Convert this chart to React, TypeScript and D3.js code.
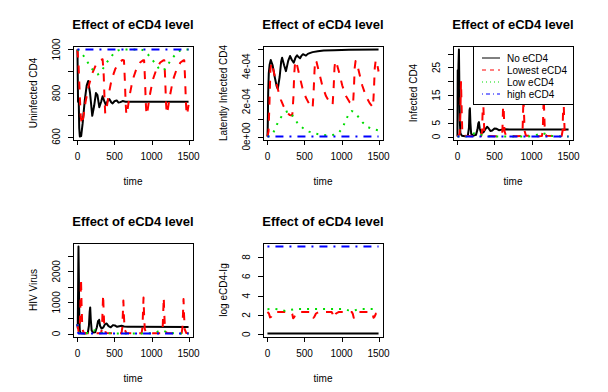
import React from "react";
import * as d3 from "d3";

type Pt = [number, number];

const chartTitle = "Effect of eCD4 level";
const timeTicks = [0, 500, 1000, 1500];
const legendNames = ["No eCD4", "Lowest eCD4", "Low eCD4", "high eCD4"];
const lineColors = ["#000000", "#ff0000", "#00dd00", "#0000ff"];

// Uninfected CD4
const uninfNone: Pt[] = [[0,1000],[8,760],[18,755],[24,640],[32,600],[50,602],[70,660],[100,770],[125,835],[145,855],[170,800],[200,695],[225,740],[250,800],[270,790],[295,735],[320,760],[340,785],[365,760],[385,745],[410,765],[430,772],[455,758],[475,752],[500,762],[530,766],[555,756],[580,758],[610,763],[650,760],[800,760],[1500,760]];
const uninfLowest: Pt[] = [[0,1000],[15,930],[30,800],[45,690],[60,655],[80,690],[110,760],[150,830],[200,890],[250,930],[300,950],[340,955],[355,880],[365,780],[375,705],[390,720],[420,790],[460,860],[510,910],[560,940],[610,952],[628,950],[640,860],[650,760],[660,700],[675,720],[705,790],[745,860],[795,910],[845,940],[885,950],[900,950],[912,860],[922,760],[932,700],[947,720],[977,790],[1017,860],[1067,910],[1117,940],[1160,950],[1173,950],[1185,860],[1195,760],[1205,705],[1220,725],[1250,790],[1290,860],[1340,910],[1390,940],[1432,950],[1442,950],[1454,860],[1464,760],[1474,700],[1489,720],[1500,745]];
const uninfLow: Pt[] = [[0,1000],[40,990],[80,972],[120,950],[160,930],[200,910],[240,893],[275,885],[310,895],[350,915],[400,942],[450,966],[500,985],[550,996],[600,1000],[860,1000],[900,995],[950,978],[1000,958],[1050,935],[1100,912],[1140,902],[1180,910],[1230,935],[1280,960],[1330,980],[1380,994],[1430,1000],[1500,1000]];
const uninfHigh: Pt[] = [[0,1000],[1500,1000]];
const uninfTicks = [600, 700, 800, 900, 1000];
const uninfLabels = ["600", "", "800", "", "1000"];

// Latently infected CD4
const latentNone: Pt[] = [[0,0],[4,0.5e-4],[10,2.5e-4],[18,3.6e-4],[30,4.1e-4],[45,4.35e-4],[70,4.05e-4],[100,3.35e-4],[125,2.85e-4],[140,2.72e-4],[165,3.4e-4],[185,4.25e-4],[198,4.48e-4],[225,4.05e-4],[250,3.72e-4],[280,4.3e-4],[305,4.58e-4],[330,4.35e-4],[355,4.2e-4],[380,4.5e-4],[400,4.62e-4],[420,4.52e-4],[440,4.45e-4],[460,4.6e-4],[480,4.68e-4],[500,4.64e-4],[520,4.6e-4],[545,4.7e-4],[570,4.74e-4],[610,4.8e-4],[680,4.85e-4],[760,4.89e-4],[900,4.91e-4],[1100,4.93e-4],[1500,4.95e-4]];
const latentLowest: Pt[] = [[0,0],[15,0.3e-4],[28,2.0e-4],[40,3.8e-4],[55,4.2e-4],[70,4.0e-4],[100,3.4e-4],[140,2.7e-4],[180,2.1e-4],[220,1.7e-4],[260,1.4e-4],[300,1.22e-4],[335,1.2e-4],[350,2.2e-4],[362,3.6e-4],[375,4.3e-4],[392,4.2e-4],[430,3.5e-4],[470,2.8e-4],[520,2.2e-4],[570,1.8e-4],[610,1.62e-4],[624,2.6e-4],[636,3.8e-4],[646,4.35e-4],[662,4.25e-4],[700,3.6e-4],[740,2.9e-4],[790,2.3e-4],[840,1.95e-4],[880,1.8e-4],[894,2.8e-4],[905,3.9e-4],[916,4.3e-4],[932,4.2e-4],[970,3.6e-4],[1010,2.9e-4],[1060,2.3e-4],[1110,1.95e-4],[1155,1.8e-4],[1168,2.8e-4],[1178,3.9e-4],[1190,4.3e-4],[1206,4.2e-4],[1240,3.6e-4],[1280,2.9e-4],[1330,2.3e-4],[1380,1.9e-4],[1425,1.65e-4],[1438,2.7e-4],[1449,3.9e-4],[1462,4.35e-4],[1478,4.2e-4],[1500,3.7e-4]];
const latentLow: Pt[] = [[0,0],[40,0.02e-4],[70,0.15e-4],[100,0.4e-4],[130,0.7e-4],[160,0.95e-4],[200,1.2e-4],[240,1.38e-4],[280,1.45e-4],[320,1.3e-4],[360,1.05e-4],[400,0.8e-4],[450,0.58e-4],[500,0.42e-4],[560,0.28e-4],[620,0.19e-4],[700,0.12e-4],[780,0.08e-4],[850,0.07e-4],[920,0.12e-4],[970,0.25e-4],[1020,0.55e-4],[1060,0.95e-4],[1100,1.3e-4],[1140,1.45e-4],[1180,1.35e-4],[1230,1.1e-4],[1290,0.78e-4],[1350,0.55e-4],[1420,0.42e-4],[1500,0.35e-4]];
const latentHigh: Pt[] = [[0,0],[1500,0]];
const latentTicks = [0, 1e-4, 2e-4, 3e-4, 4e-4, 5e-4];
const latentLabels = ["0e+00", "", "2e-04", "", "4e-04", ""];

// Infected CD4
const infNone: Pt[] = [[0,0],[4,24],[8,16],[14,26],[20,31.5],[26,18],[33,5],[40,1.2],[60,0.3],[100,0.1],[140,0.3],[155,3],[163,9.5],[168,10.2],[175,5],[185,1],[210,0.3],[250,0.6],[270,2.5],[282,4.8],[290,5.2],[300,3],[320,1.3],[350,1.5],[380,2.8],[400,3.5],[420,3],[445,2],[470,2.2],[500,2.9],[530,2.8],[560,2.3],[600,2.5],[650,2.6],[700,2.5],[1500,2.5]];
const infLowest: Pt[] = [[0,0],[30,1],[40,8],[48,20],[55,12],[65,2],[80,0.3],[200,0.1],[320,0.2],[332,2],[340,9],[347,14],[354,8],[362,2],[380,0.3],[500,0.1],[595,0.2],[607,2],[614,9],[620,14],[627,8],[635,2],[655,0.3],[780,0.1],[867,0.2],[879,2],[886,9],[892,14],[899,8],[907,2],[925,0.3],[1050,0.1],[1140,0.2],[1152,2],[1159,9],[1165,14],[1172,8],[1180,2],[1200,0.3],[1320,0.1],[1407,0.2],[1419,2],[1426,9],[1432,14],[1439,8],[1447,2],[1465,0.3],[1500,0.1]];
const infLow: Pt[] = [[0,0],[120,0.05],[170,0.4],[220,1.1],[260,1.3],[300,0.8],[350,0.3],[420,0.1],[600,0],[950,0],[1040,0.2],[1100,0.9],[1140,1.3],[1180,1.0],[1230,0.4],[1300,0.1],[1500,0]];
const infHigh: Pt[] = [[0,0],[1500,0]];
const infTicks = [0, 5, 10, 15, 20, 25, 30];
const infLabels = ["0", "5", "", "15", "", "25", ""];

// HIV virus
const virusNone: Pt[] = [[0,300],[4,180],[9,1400],[14,2800],[19,1800],[25,500],[32,80],[45,10],[100,3],[140,20],[155,250],[165,700],[172,840],[180,450],[192,100],[210,30],[240,40],[262,200],[278,400],[286,350],[293,440],[305,250],[325,160],[350,200],[375,310],[395,320],[420,240],[450,200],[480,270],[505,260],[535,215],[565,235],[595,250],[630,225],[680,215],[760,220],[1500,210]];
const virusLowest: Pt[] = [[0,300],[15,60],[30,100],[40,900],[48,1760],[56,900],[66,150],[85,20],[200,5],[320,10],[332,200],[340,800],[347,1250],[354,700],[364,150],[385,15],[500,5],[595,10],[606,200],[614,700],[620,1060],[627,600],[637,130],[660,15],[780,5],[867,10],[878,200],[886,750],[892,1160],[899,650],[909,140],[930,15],[1050,5],[1140,10],[1151,200],[1159,750],[1165,1160],[1172,650],[1182,140],[1205,15],[1320,5],[1407,10],[1418,200],[1426,700],[1432,1110],[1439,600],[1449,130],[1470,15],[1500,5]];
const virusLow: Pt[] = [[0,300],[10,60],[30,10],[150,20],[200,70],[240,110],[280,60],[330,15],[500,2],[1000,5],[1080,60],[1130,100],[1170,80],[1230,20],[1350,3],[1500,1]];
const virusHigh: Pt[] = [[0,300],[6,40],[15,0],[1500,0]];
const virusTicks = [0, 500, 1000, 1500, 2000, 2500];
const virusLabels = ["0", "", "1000", "", "2000", ""];

// log eCD4-Ig
const igNone: Pt[] = [[0,0.08],[1500,0.08]];
const igLowest: Pt[] = [[0,2.3],[20,2.15],[35,1.75],[50,1.8],[70,2.15],[100,2.3],[320,2.3],[335,2.1],[347,1.65],[360,1.75],[380,2.1],[410,2.3],[595,2.3],[607,2.1],[620,1.7],[633,1.8],[655,2.15],[690,2.3],[867,2.3],[880,2.1],[892,1.7],[905,1.8],[925,2.15],[960,2.3],[1140,2.3],[1153,2.1],[1165,1.7],[1178,1.8],[1198,2.15],[1230,2.3],[1407,2.3],[1420,2.1],[1432,1.7],[1445,1.8],[1465,2.15],[1500,2.3]];
const igLow: Pt[] = [[0,2.6],[100,2.62],[180,2.55],[240,2.42],[300,2.5],[380,2.62],[1000,2.62],[1080,2.5],[1140,2.42],[1200,2.52],[1280,2.62],[1500,2.62]];
const igHigh: Pt[] = [[0,9.08],[1500,9.08]];
const igTicks = [0, 2, 4, 6, 8];
const igLabels = ["0", "2", "4", "6", "8"];

const font = "'Liberation Sans', Arial, sans-serif";
const dashes = ["", "8,8", "2,6", "2,6,8,6"];
const legendDashes = ["", "4,4", "1,3", "1,3,4,3"];

type PanelProps = {
  id: string;
  left: number;
  top: number;
  ylab: string;
  series: Pt[][];
  yTicks: number[];
  yLabels: string[];
  legend?: boolean;
};

function Panel({ id, left, top, ylab, series, yTicks, yLabels, legend }: PanelProps) {
  const w = 120;
  const h = 94;
  const vals = series.flat().map((d) => d[1]);
  const lo = d3.min(vals) as number;
  const hi = d3.max(vals) as number;
  const pad = (hi - lo) * 0.04;
  const x = d3.scaleLinear().domain([-60, 1560]).range([left, left + w]);
  const y = d3.scaleLinear().domain([lo - pad, hi + pad]).range([top + h, top]);
  const line = d3.line<Pt>().x((d) => x(d[0])).y((d) => y(d[1]));

  return (
    <g>
      <defs>
        <clipPath id={id}>
          <rect x={left} y={top} width={w} height={h} />
        </clipPath>
      </defs>
      <text x={left + w / 2} y={top - 17} textAnchor="middle" fontWeight="bold" fontSize={13}>
        {chartTitle}
      </text>
      <g clipPath={`url(#${id})`}>
        {series.map((s, i) => (
          <path key={i} d={line(s) || ""} fill="none" stroke={lineColors[i]}
            strokeWidth={2} strokeDasharray={dashes[i]} strokeLinejoin="round" />
        ))}
      </g>
      <rect x={left + 0.5} y={top + 0.5} width={w} height={h} fill="none" stroke="#000" strokeWidth={1} />
      {timeTicks.map((t) => (
        <g key={t}>
          <line x1={Math.round(x(t)) + 0.5} x2={Math.round(x(t)) + 0.5} y1={top + h} y2={top + h + 5} stroke="#000" />
          <text x={x(t)} y={top + h + 20} textAnchor="middle" fontSize={10}>{t}</text>
        </g>
      ))}
      {yTicks.map((t, i) => (
        <g key={t}>
          <line x1={left - 5} x2={left} y1={Math.round(y(t)) + 0.5} y2={Math.round(y(t)) + 0.5} stroke="#000" />
          {yLabels[i] && (
            <text transform={`translate(${left - 17},${y(t)}) rotate(-90)`} dy="0.35em" textAnchor="middle" fontSize={10}>
              {yLabels[i]}
            </text>
          )}
        </g>
      ))}
      <text x={left + w / 2} y={top + h + 45} textAnchor="middle" fontSize={10}>time</text>
      <text transform={`translate(${left - 40},${top + h / 2}) rotate(-90)`} dy="0.35em" textAnchor="middle" fontSize={10}>
        {ylab}
      </text>
      {legend && (
        <g>
          <rect x={left + w - 100 + 0.5} y={top + 0.5} width={100} height={58} fill="#fff" stroke="#000" />
          {legendNames.map((n, i) => (
            <g key={n}>
              <line x1={left + w - 91} x2={left + w - 73} y1={top + 12 + i * 12} y2={top + 12 + i * 12}
                stroke={lineColors[i]} strokeWidth={1} strokeDasharray={legendDashes[i]} />
              <text x={left + w - 66} y={top + 12 + i * 12} dy="0.35em" fontSize={10}>{n}</text>
            </g>
          ))}
        </g>
      )}
    </g>
  );
}

export default function App() {
  return (
    <svg width={608} height={392} style={{ position: "absolute", left: 0, top: 0, background: "#fff" }}
      fontFamily={font}>
      <rect width={608} height={392} fill="#fff" />
      <Panel id="p1" left={73} top={46} ylab="Uninfected CD4"
        series={[uninfNone, uninfLowest, uninfLow, uninfHigh]} yTicks={uninfTicks} yLabels={uninfLabels} />
      <Panel id="p2" left={263} top={46} ylab="Latently Infected CD4"
        series={[latentNone, latentLowest, latentLow, latentHigh]} yTicks={latentTicks} yLabels={latentLabels} />
      <Panel id="p3" left={453} top={46} ylab="Infected CD4"
        series={[infNone, infLowest, infLow, infHigh]} yTicks={infTicks} yLabels={infLabels} legend />
      <Panel id="p4" left={73} top={243} ylab="HIV Virus"
        series={[virusNone, virusLowest, virusLow, virusHigh]} yTicks={virusTicks} yLabels={virusLabels} />
      <Panel id="p5" left={263} top={243} ylab="log eCD4-Ig"
        series={[igNone, igLowest, igLow, igHigh]} yTicks={igTicks} yLabels={igLabels} />
    </svg>
  );
}
